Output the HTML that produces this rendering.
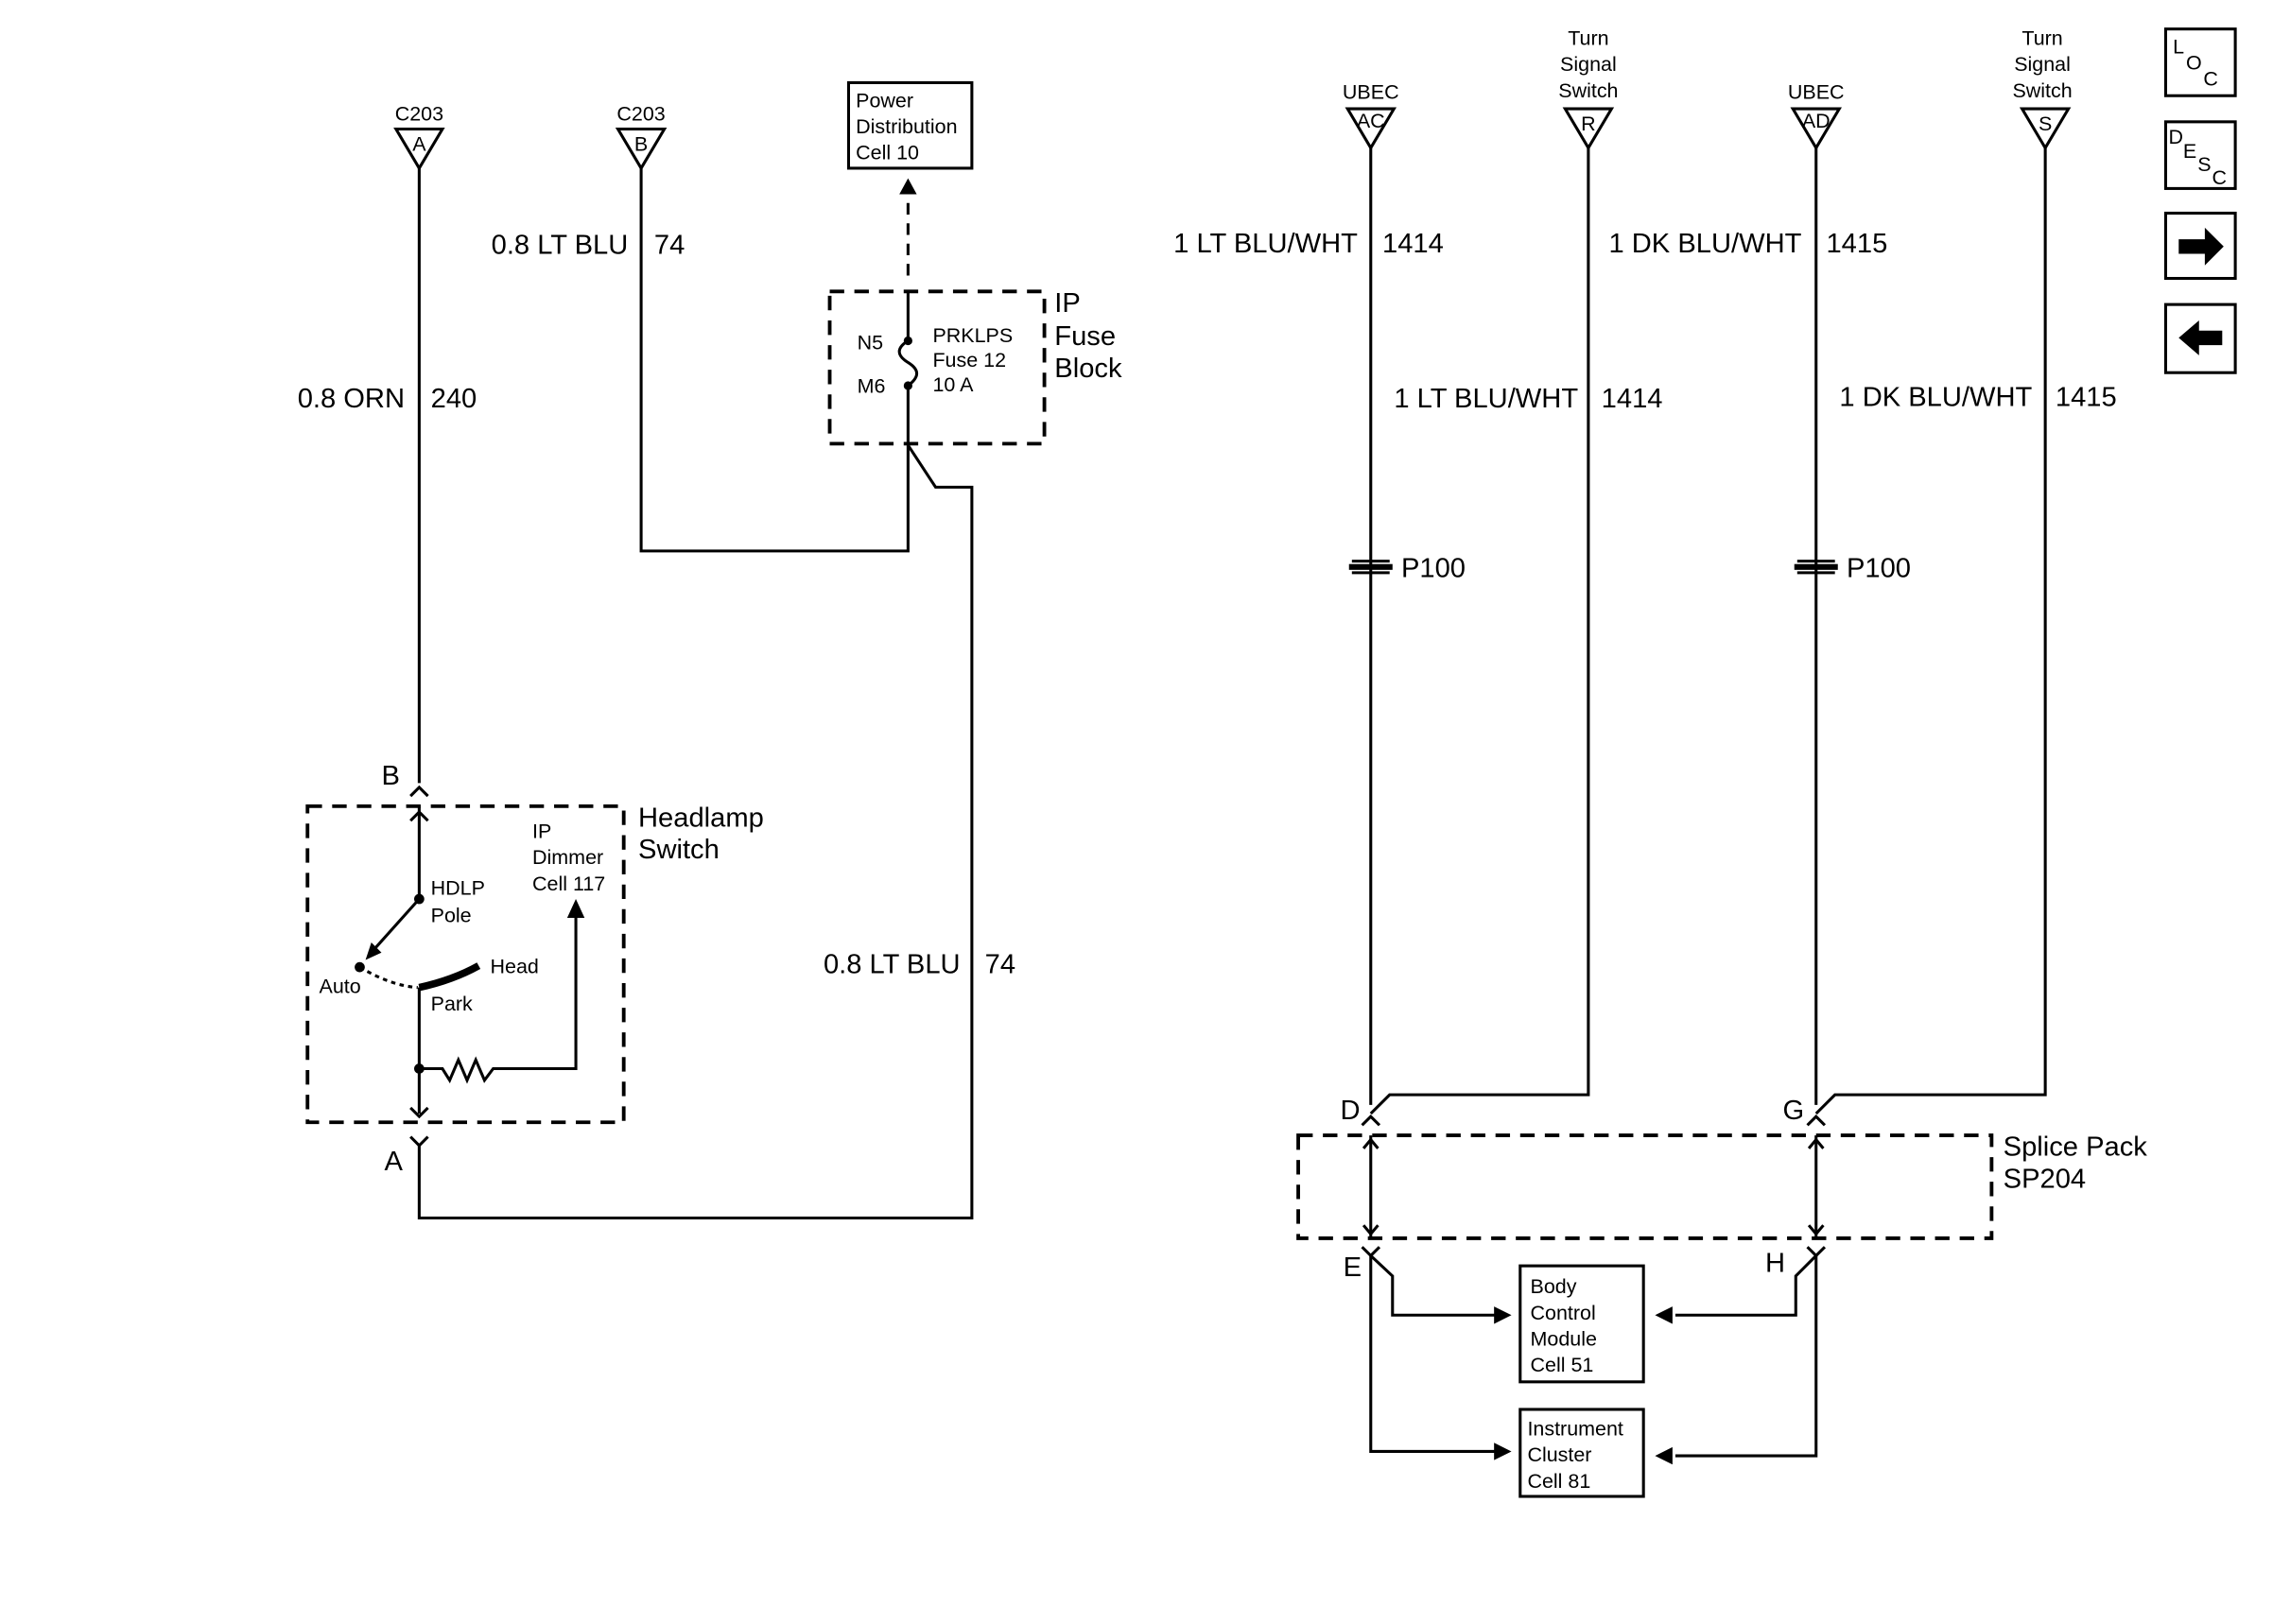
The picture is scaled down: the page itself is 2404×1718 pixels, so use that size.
<!DOCTYPE html>
<html><head><style>
html,body{margin:0;padding:0;background:#fff}
svg{display:block}
text{font-family:"Liberation Sans",Arial,sans-serif;fill:#000}
.w{font-size:19px}
.s{font-size:14px}
.m{font-size:19px}
</style></head><body>
<svg width="2404" height="1718" viewBox="0 0 1567 1120" preserveAspectRatio="none" xmlns="http://www.w3.org/2000/svg">
<g stroke="#000" stroke-width="2" fill="none">
<polygon points="273,89 305,89 289,116"/>
<line x1="289" y1="116" x2="289" y2="540"/>
<polyline points="283,549 289,543 295,549"/>
<polygon points="426,89 458,89 442,116"/>
<polyline points="442,116 442,380 626,380 626,307"/>
<rect x="585" y="57" width="85" height="59"/>
<line x1="626" y1="190" x2="626" y2="130" stroke-dasharray="8,6"/>
<rect x="572" y="201" width="148" height="105" stroke-dasharray="10,7" stroke-width="2.5"/>
<line x1="626" y1="201" x2="626" y2="235"/>
<path d="M626,235 C618,240 618,245 626,250 C634,255 634,260 626,266"/>
<line x1="626" y1="266" x2="626" y2="307"/>
<polyline points="626,307 645,336 670,336 670,840 289,840 289,790"/>
<polyline points="283,784 289,790 295,784"/>
<rect x="212" y="556" width="218" height="218" stroke-dasharray="10,7" stroke-width="2.5"/>
<line x1="289" y1="556" x2="289" y2="620"/>
<polyline points="283,566 289,560 295,566"/>
<line x1="289" y1="620" x2="255" y2="658"/>
<path d="M248,667 Q270,680 288,681" stroke-dasharray="3,3"/>
<path d="M289,681 Q312,676 330,666" stroke-width="5"/>
<line x1="289" y1="681" x2="289" y2="768"/>
<polyline points="283,764 289,770 295,764"/>
<polyline points="289,737 305,737 310,745 316,731 322,745 328,731 334,745 340,737 397,737 397,630"/>
<polygon points="929,75 961,75 945,102"/>
<line x1="945" y1="102" x2="945" y2="762"/>
<polygon points="1079,75 1111,75 1095,102"/>
<polyline points="1095,102 1095,755 958,755 945,768"/>
<polygon points="1236,75 1268,75 1252,102"/>
<line x1="1252" y1="102" x2="1252" y2="762"/>
<polygon points="1394,75 1426,75 1410,102"/>
<polyline points="1410,102 1410,755 1265,755 1252,768"/>
<polyline points="939,776 945,770 951,776"/>
<polyline points="1246,776 1252,770 1258,776"/>
<line x1="932" y1="387" x2="958" y2="387"/><line x1="932" y1="395" x2="958" y2="395"/>
<line x1="1239" y1="387" x2="1265" y2="387"/><line x1="1239" y1="395" x2="1265" y2="395"/>
<rect x="895" y="783" width="478" height="71" stroke-dasharray="10,7" stroke-width="2.5"/>
<line x1="945" y1="783" x2="945" y2="854"/>
<line x1="1252" y1="783" x2="1252" y2="854"/>
<polyline points="940,792 945,786 950,792"/><polyline points="940,845 945,851 950,845"/>
<polyline points="1247,792 1252,786 1257,792"/><polyline points="1247,845 1252,851 1257,845"/>
<polyline points="939,860 945,866 951,860"/><polyline points="1246,860 1252,866 1258,860"/>
<polyline points="945,866 960,880 960,907 1032,907"/>
<polyline points="945,866 945,1001 1032,1001"/>
<polyline points="1252,866 1238,880 1238,907 1155,907"/>
<polyline points="1252,866 1252,1004 1155,1004"/>
<rect x="1048" y="873" width="85" height="80"/>
<rect x="1048" y="972" width="85" height="60"/>
<rect x="1493" y="20" width="48" height="46"/>
<rect x="1493" y="84" width="48" height="46"/>
<rect x="1493" y="147" width="48" height="45"/>
<rect x="1493" y="210" width="48" height="47"/>
</g>
<g fill="#000">
<polygon points="626,123 620,134 632,134"/>
<circle cx="626" cy="235" r="3"/><circle cx="626" cy="266" r="3"/>
<circle cx="289" cy="620" r="3.5"/><circle cx="248" cy="667" r="3.5"/><circle cx="289" cy="737" r="3.5"/>
<polygon points="252,662 256,650 263,657"/>
<polygon points="397,620 391,633 403,633"/>
<polygon points="1042,907 1030,901 1030,913"/>
<polygon points="1042,1001 1030,995 1030,1007"/>
<polygon points="1141,907 1153,901 1153,913"/>
<polygon points="1141,1004 1153,998 1153,1010"/>
<rect x="930" y="389" width="30" height="4"/><rect x="1237" y="389" width="30" height="4"/>
<polygon points="1502,165 1520,165 1520,157 1533,170 1520,183 1520,175 1502,175"/>
<polygon points="1532,228 1516,228 1516,221 1502,233 1516,245 1516,238 1532,238"/>
</g>
<text class="s" x="289" y="83" text-anchor="middle">C203</text>
<text class="s" x="289" y="104" text-anchor="middle" font-size="12">A</text>
<text class="s" x="442" y="83" text-anchor="middle">C203</text>
<text class="s" x="442" y="104" text-anchor="middle" font-size="12">B</text>
<text class="s" x="590" y="74">Power</text><text class="s" x="590" y="92">Distribution</text><text class="s" x="590" y="110">Cell 10</text>
<text class="w" x="433" y="175" text-anchor="end">0.8 LT BLU</text><text class="w" x="451" y="175">74</text>
<text class="w" x="279" y="281" text-anchor="end">0.8 ORN</text><text class="w" x="297" y="281">240</text>
<text class="s" x="591" y="241">N5</text><text class="s" x="591" y="271">M6</text>
<text class="s" x="643" y="236">PRKLPS</text><text class="s" x="643" y="253">Fuse 12</text><text class="s" x="643" y="270">10 A</text>
<text class="m" x="727" y="215">IP</text><text class="m" x="727" y="238">Fuse</text><text class="m" x="727" y="260">Block</text>
<text class="m" x="263" y="541">B</text><text class="m" x="265" y="807">A</text>
<text class="m" x="440" y="570">Headlamp</text><text class="m" x="440" y="592">Switch</text>
<text class="s" x="367" y="578">IP</text><text class="s" x="367" y="596">Dimmer</text><text class="s" x="367" y="614">Cell 117</text>
<text class="s" x="297" y="617">HDLP</text><text class="s" x="297" y="636">Pole</text>
<text class="s" x="338" y="671">Head</text><text class="s" x="220" y="685">Auto</text><text class="s" x="297" y="697">Park</text>
<text class="w" x="662" y="671" text-anchor="end">0.8 LT BLU</text><text class="w" x="679" y="671">74</text>
<text class="s" x="945" y="68" text-anchor="middle">UBEC</text><text class="s" x="945" y="88" text-anchor="middle" font-size="12">AC</text>
<text class="s" x="1095" y="31" text-anchor="middle">Turn</text><text class="s" x="1095" y="49" text-anchor="middle">Signal</text><text class="s" x="1095" y="67" text-anchor="middle">Switch</text>
<text class="s" x="1095" y="90" text-anchor="middle" font-size="12">R</text>
<text class="s" x="1252" y="68" text-anchor="middle">UBEC</text><text class="s" x="1252" y="88" text-anchor="middle" font-size="12">AD</text>
<text class="s" x="1408" y="31" text-anchor="middle">Turn</text><text class="s" x="1408" y="49" text-anchor="middle">Signal</text><text class="s" x="1408" y="67" text-anchor="middle">Switch</text>
<text class="s" x="1410" y="90" text-anchor="middle" font-size="12">S</text>
<text class="w" x="936" y="174" text-anchor="end">1 LT BLU/WHT</text><text class="w" x="953" y="174">1414</text>
<text class="w" x="1242" y="174" text-anchor="end">1 DK BLU/WHT</text><text class="w" x="1259" y="174">1415</text>
<text class="w" x="1088" y="281" text-anchor="end">1 LT BLU/WHT</text><text class="w" x="1104" y="281">1414</text>
<text class="w" x="1401" y="280" text-anchor="end">1 DK BLU/WHT</text><text class="w" x="1417" y="280">1415</text>
<text class="w" x="966" y="398">P100</text><text class="w" x="1273" y="398">P100</text>
<text class="m" x="924" y="772">D</text><text class="m" x="1229" y="772">G</text>
<text class="m" x="926" y="880">E</text><text class="m" x="1217" y="877">H</text>
<text class="m" x="1381" y="797">Splice Pack</text><text class="m" x="1381" y="819">SP204</text>
<text class="s" x="1055" y="892">Body</text><text class="s" x="1055" y="910">Control</text><text class="s" x="1055" y="928">Module</text><text class="s" x="1055" y="946">Cell 51</text>
<text class="s" x="1053" y="990">Instrument</text><text class="s" x="1053" y="1008">Cluster</text><text class="s" x="1053" y="1026">Cell 81</text>
<text class="s" x="1498" y="37" font-size="13">L</text><text class="s" x="1507" y="48" font-size="13">O</text><text class="s" x="1519" y="59" font-size="13">C</text>
<text class="s" x="1495" y="99" font-size="13">D</text><text class="s" x="1505" y="109" font-size="13">E</text><text class="s" x="1515" y="118" font-size="13">S</text><text class="s" x="1525" y="127" font-size="13">C</text>
</svg>
</body></html>
